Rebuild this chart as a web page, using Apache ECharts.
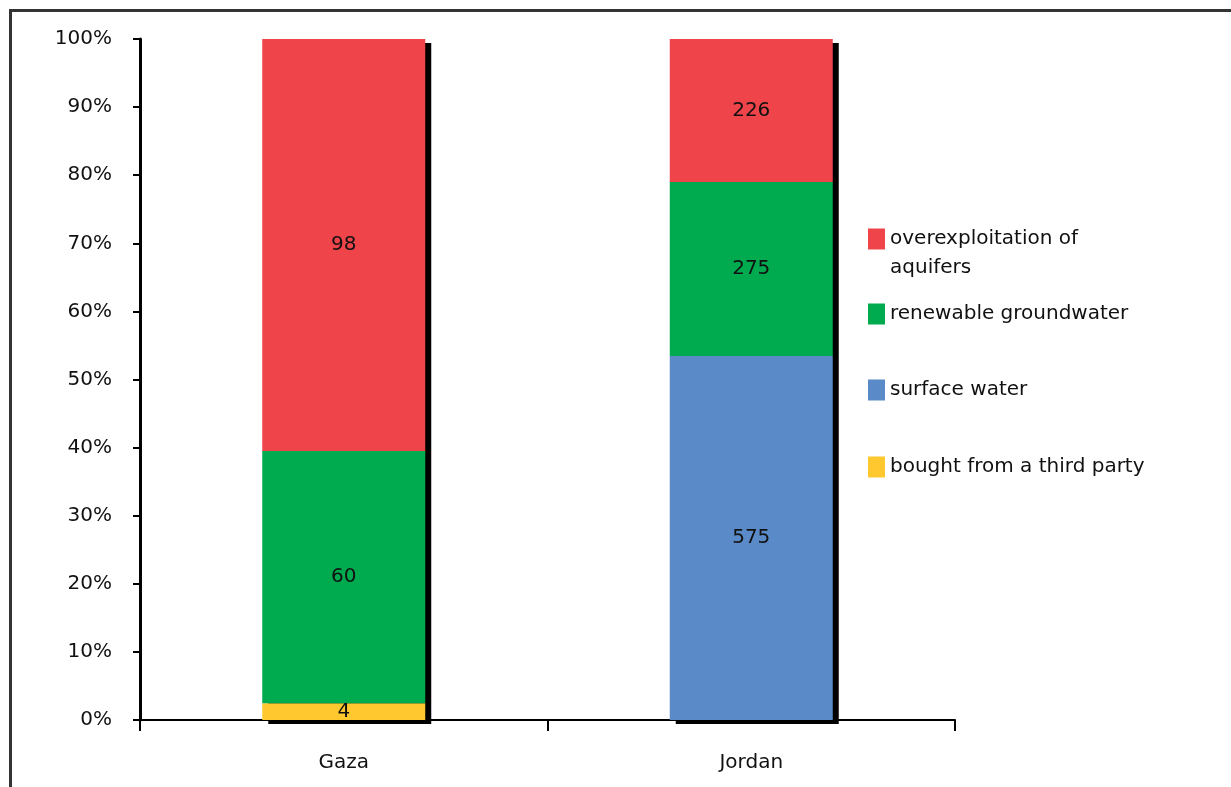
<!DOCTYPE html>
<html>
<head>
<meta charset="utf-8">
<script src="https://cdn.jsdelivr.net/npm/echarts@6/dist/echarts.min.js"></script>
<style>
  html, body { margin: 0; padding: 0; background: #fff; }
  #chart { width: 1231px; height: 787px; }
</style>
</head>
<body>
<div id="chart"></div>
<script>
// Water sources by region (million m³), shown as shares of each region's total
const categories = ['Gaza', 'Jordan'];
const boughtThirdParty = [4, 0];
const surfaceWater = [0, 575];
const renewableGroundwater = [60, 275];
const overexploitation = [98, 226];
const yTickLabels = ['0%', '10%', '20%', '30%', '40%', '50%', '60%', '70%', '80%', '90%', '100%'];

const FONT = 'DejaVu Sans';
const FS = 20;
const totals = categories.map((_, i) =>
  boughtThirdParty[i] + surfaceWater[i] + renewableGroundwater[i] + overexploitation[i]);
const pct = arr => arr.map((v, i) => ({ value: v / totals[i] * 100, raw: v }));

const colors = {
  over: '#EF444A',
  renew: '#00AA4F',
  surface: '#5A8BC8',
  bought: '#FFC82E'
};

const BAR_RATIO = 0.4;

function barSeries(name, values, color) {
  return {
    name: name,
    type: 'bar',
    stack: 'total',
    barWidth: (BAR_RATIO * 100) + '%',
    z: 3,
    itemStyle: { color: color },
    label: {
      show: true,
      position: 'inside',
      color: '#111',
      fontFamily: FONT,
      fontSize: FS,
      formatter: p => (p.data.raw ? String(p.data.raw) : '')
    },
    data: pct(values)
  };
}

const chart = echarts.init(document.getElementById('chart'), null, { renderer: 'canvas' });

function legendAt(name, top, textOpt) {
  return {
    data: [name],
    left: 868,
    top: top,
    padding: 0,
    orient: 'vertical',
    itemWidth: 17,
    itemHeight: 21,
    itemGap: 0,
    icon: 'rect',
    selectedMode: false,
    textStyle: Object.assign({ fontFamily: FONT, fontSize: FS, color: '#111', lineHeight: 21 }, textOpt || {})
  };
}

chart.setOption({
  animation: false,
  backgroundColor: '#fff',
  graphic: [{
    type: 'rect',
    shape: { x: 10.5, y: 10.5, width: 1400, height: 900 },
    style: { fill: 'none', stroke: '#333', lineWidth: 3 },
    silent: true
  }],
  grid: { left: 140, right: 276, top: 39, bottom: 67 },
  legend: [
    // two-line entry: a leading blank line keeps the swatch level with the first line
    Object.assign(legendAt('overexploitation of aquifers', 195.5, { lineHeight: 29 }), {
      formatter: () => '\noverexploitation of\naquifers'
    }),
    legendAt('renewable groundwater', 303.5),
    legendAt('surface water', 379.5),
    legendAt('bought from a third party', 456.5)
  ],
  xAxis: {
    type: 'category',
    data: categories,
    axisLine: { lineStyle: { color: '#000', width: 2 } },
    axisTick: { show: true, length: 11, lineStyle: { color: '#000', width: 2 } },
    axisLabel: { fontFamily: FONT, fontSize: FS, color: '#111', margin: 33 }
  },
  yAxis: {
    type: 'value',
    min: 0,
    max: 100,
    interval: 10,
    splitLine: { show: false },
    axisLine: { show: true, lineStyle: { color: '#000', width: 3 } },
    axisTick: { show: true, length: 7, lineStyle: { color: '#000', width: 2 } },
    axisLabel: {
      fontFamily: FONT, fontSize: FS, color: '#111', margin: 28,
      formatter: v => yTickLabels[Math.round(v / 10)]
    }
  },
  series: [
    {
      // dark drop shadow behind each stacked column
      name: 'shadow',
      type: 'custom',
      z: 1,
      silent: true,
      data: categories.map((_, i) => [i, 100]),
      renderItem: function (params, api) {
        const top = api.coord([api.value(0), api.value(1)]);
        const base = api.coord([api.value(0), 0]);
        const w = api.size([1, 0])[0] * BAR_RATIO;
        return {
          type: 'rect',
          shape: { x: top[0] - w / 2 + 6, y: top[1] + 4, width: w, height: base[1] - top[1] },
          style: { fill: '#000' }
        };
      }
    },
    barSeries('bought from a third party', boughtThirdParty, colors.bought),
    barSeries('surface water', surfaceWater, colors.surface),
    barSeries('renewable groundwater', renewableGroundwater, colors.renew),
    barSeries('overexploitation of aquifers', overexploitation, colors.over)
  ]
});
</script>
</body>
</html>
